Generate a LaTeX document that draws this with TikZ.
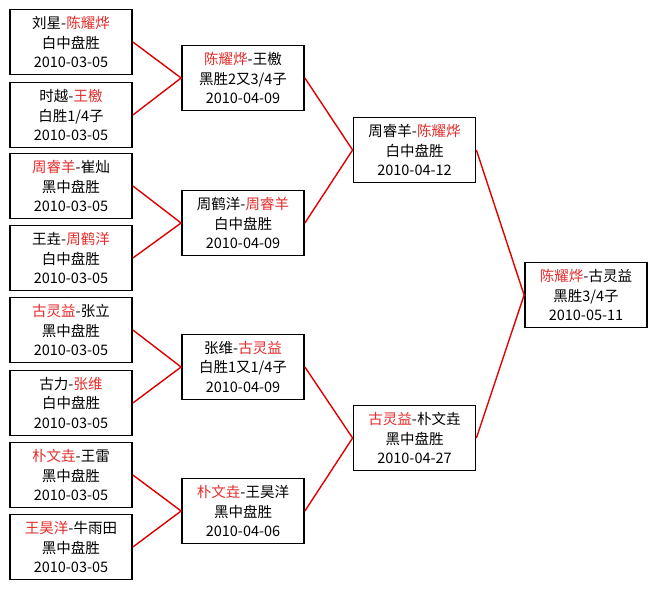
\documentclass[tikz,border=0pt]{standalone}
\usepackage{fontspec}
\setmainfont{Noto Sans CJK SC}
\definecolor{winred}{RGB}{228,45,45}
\definecolor{linkred}{RGB}{225,0,0}
\newcommand\wn[1]{\textcolor{winred}{#1}}
\begin{document}
\begin{tikzpicture}[x=1pt,y=-1pt,
  game/.style={draw=black, line width=1.8pt, fill=white, minimum width=122pt,
    minimum height=65pt, align=center, inner sep=0pt,
    font=\fontsize{14.5}{19.5}\selectfont},
  link/.style={draw=linkred, line width=1.4pt}]
\useasboundingbox (0,0) rectangle (657,589);
% round 1
\node[game] (r1a) at (71,42)  {刘星-\wn{陈耀烨}\\白中盘胜\\2010-03-05};
\node[game] (r1b) at (71,115) {时越-\wn{王檄}\\白胜1/4子\\2010-03-05};
\node[game] (r1c) at (71,186) {\wn{周睿羊}-崔灿\\黑中盘胜\\2010-03-05};
\node[game] (r1d) at (71,258) {王垚-\wn{周鹤洋}\\白中盘胜\\2010-03-05};
\node[game] (r1e) at (71,330) {\wn{古灵益}-张立\\黑中盘胜\\2010-03-05};
\node[game] (r1f) at (71,403) {古力-\wn{张维}\\白中盘胜\\2010-03-05};
\node[game] (r1g) at (71,475) {\wn{朴文垚}-王雷\\黑中盘胜\\2010-03-05};
\node[game] (r1h) at (71,547) {\wn{王昊洋}-牛雨田\\黑中盘胜\\2010-03-05};
% round 2
\node[game] (r2a) at (243,78)  {\wn{陈耀烨}-王檄\\黑胜2又3/4子\\2010-04-09};
\node[game] (r2b) at (243,223) {周鹤洋-\wn{周睿羊}\\白中盘胜\\2010-04-09};
\node[game] (r2c) at (243,367) {张维-\wn{古灵益}\\白胜1又1/4子\\2010-04-09};
\node[game] (r2d) at (243,511) {\wn{朴文垚}-王昊洋\\黑中盘胜\\2010-04-06};
% round 3
\node[game] (r3a) at (414.5,150) {周睿羊-\wn{陈耀烨}\\白中盘胜\\2010-04-12};
\node[game] (r3b) at (414.5,438) {\wn{古灵益}-朴文垚\\黑中盘胜\\2010-04-27};
% final
\node[game] (fin) at (586,295) {\wn{陈耀烨}-古灵益\\黑胜3/4子\\2010-05-11};
% links
\draw[link] (r1a.east) -- (r2a.west) -- (r1b.east);
\draw[link] (r1c.east) -- (r2b.west) -- (r1d.east);
\draw[link] (r1e.east) -- (r2c.west) -- (r1f.east);
\draw[link] (r1g.east) -- (r2d.west) -- (r1h.east);
\draw[link] (r2a.east) -- (r3a.west) -- (r2b.east);
\draw[link] (r2c.east) -- (r3b.west) -- (r2d.east);
\draw[link] (r3a.east) -- (fin.west) -- (r3b.east);
\end{tikzpicture}
\end{document}
